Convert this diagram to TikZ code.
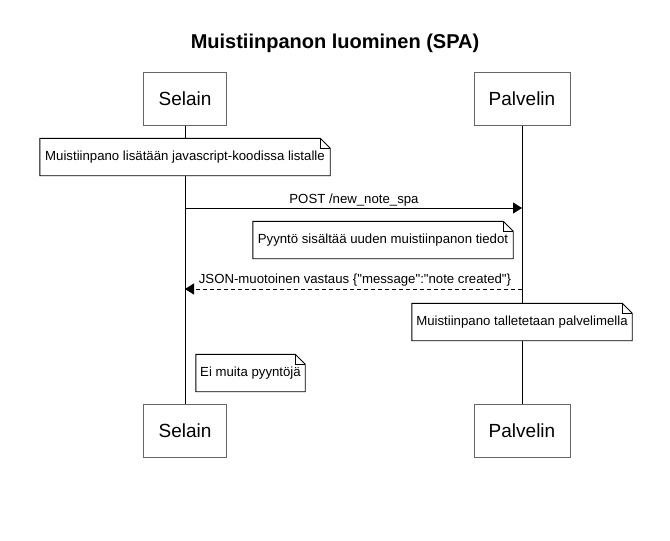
\documentclass[tikz,border=0pt]{standalone}
\usepackage{fontspec}
\setmainfont{Liberation Sans}[Ligatures=TeXOff]
\usetikzlibrary{arrows.meta}
\newcommand\drawnotefold[1]{%
  \draw[noteline] (#1.south west) -- (#1.north west) -- ([xshift=-10pt]#1.north east)
    -- ([yshift=-10pt]#1.north east) -- (#1.south east) -- cycle;
  \draw[noteline] ([xshift=-10pt]#1.north east) -- ([xshift=-10pt,yshift=-10pt]#1.north east)
    -- ([yshift=-10pt]#1.north east);}
\begin{document}
\begin{tikzpicture}[x=1pt,y=-1pt,
  actor/.style={draw=black!60, fill=white, line width=1pt, minimum width=83pt,
    minimum height=53pt, inner sep=0pt, font=\fontsize{19}{23}\selectfont},
  actorwide/.style={actor, minimum width=96pt},
  lifeline/.style={line width=1pt, black},
  notebox/.style={fill=white, inner sep=0pt, font=\fontsize{13.2}{16}\selectfont},
  noteline/.style={draw=black, line width=0.9pt, line join=miter},
  msg/.style={line width=1pt, -{Triangle[length=9pt,width=11pt]}},
  reply/.style={msg, dash pattern=on 4pt off 3pt},
  msglabel/.style={anchor=base, inner sep=0pt, font=\fontsize{13.2}{16}\selectfont},
  titlestyle/.style={font=\fontsize{20}{24}\selectfont\bfseries}
]
\useasboundingbox (0,0) rectangle (670,541);
\node[titlestyle] (title) at (335,43) {Muistiinpanon luominen (SPA)};

\node[actor] (s1) at (185,98.5) {Selain};
\node[actorwide] (p1) at (522,98.5) {Palvelin};
\node[actor] (s2) at (185,431) {Selain};
\node[actorwide] (p2) at (522,431) {Palvelin};

\draw[lifeline] (s1.south) -- (s2.north);
\draw[lifeline] (p1.south) -- (p2.north);

\node[notebox, minimum width=290pt, minimum height=37pt] (n1) at (185,157)
  {Muistiinpano lisätään javascript-koodissa listalle};
\drawnotefold{n1}

\coordinate (y1) at (0,208);
\draw[msg] (s1 |- y1) -- (p1 |- y1);
\node[msglabel] (l1) at (354,203) {POST /new\_note\_spa};

\node[notebox, minimum width=260pt, minimum height=37pt] (n2) at (383,240)
  {Pyyntö sisältää uuden muistiinpanon tiedot};
\drawnotefold{n2}

\coordinate (y2) at (0,289);
\draw[reply] (p1 |- y2) -- (s1 |- y2);
\node[msglabel] (l2) at (355,283) {JSON-muotoinen vastaus \{"message":"note created"\}};

\node[notebox, minimum width=220pt, minimum height=37pt] (n3) at (522,322)
  {Muistiinpano talletetaan palvelimella};
\drawnotefold{n3}

\node[notebox, minimum width=109pt, minimum height=37pt] (n4) at (250.5,373)
  {Ei muita pyyntöjä};
\drawnotefold{n4}
\end{tikzpicture}
\end{document}
